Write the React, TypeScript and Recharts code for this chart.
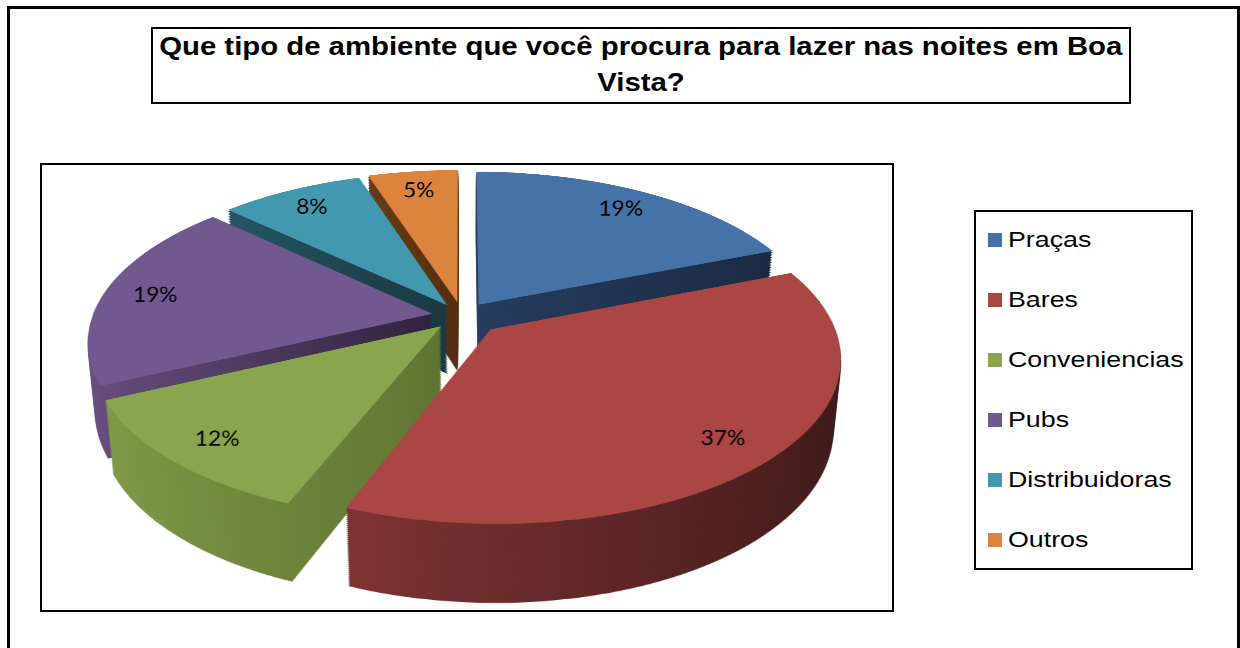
import React from 'react';
import { PieChart, Pie, Cell } from 'recharts';

// survey answers
const categories = ['Praças', 'Bares', 'Conveniencias', 'Pubs', 'Distribuidoras', 'Outros'];
const percentages = [19, 37, 12, 19, 8, 5];

const topColors = ['#4572A7', '#AA4643', '#89A54E', '#71588F', '#4198AF', '#DB843D'];
const wallLight = ['#263c5e', '#7e3333', '#7e9948', '#6a5082', '#255563', '#6a3b17'];
const wallDark = ['#1b2a42', '#3d1818', '#5f7431', '#30223b', '#1b3842', '#522d10'];
const explodeBy = [30, 40, 30, 30, 28, 30];

const data = categories.map((name, i) => ({ name, value: percentages[i] }));

// 3d look: the flat pie is tilted with a css perspective, walls are stacked copies
const SIZE = 800;
const RADIUS = 340;
const TILT = 62.3;
const PERSP = 1845;
const DEPTH = 80;
const STEP = 2;
const CENTER_X = 462;
const CENTER_Y = 316;
const LABEL_R = 288;

const RAD = Math.PI / 180;
const total = percentages.reduce((a, b) => a + b, 0);
const midAngles = percentages.map((v, i) => {
  const before = percentages.slice(0, i).reduce((a, b) => a + b, 0);
  return (360 * (before + v / 2)) / total;
});
const offsetOf = (i: number) => {
  const a = midAngles[i] * RAD;
  return [explodeBy[i] * Math.sin(a), -explodeBy[i] * Math.cos(a)];
};

const renderLabel = (props: any) => {
  const { cx, cy, midAngle, index, value } = props;
  const [dx, dy] = offsetOf(index);
  const u = LABEL_R * Math.cos(midAngle * RAD) + dx;
  const v = -LABEL_R * Math.sin(midAngle * RAD) + dy;
  const k = Math.sin(TILT * RAD) / PERSP;
  const c = Math.cos(TILT * RAD);
  const f = 1 / (1 - v * k);
  // undo the projection locally so the text reads flat
  const m = [1.08 / f, 0, (-u * k) / (f * c), 1 / (c * f * f), 0, 0];
  return (
    <text
      key={`lbl-${index}`}
      transform={`translate(${cx + u} ${cy + v}) matrix(${m.join(' ')})`}
      x={0}
      y={0}
      textAnchor="middle"
      dominantBaseline="central"
      fontFamily="Lato, 'Noto Sans', sans-serif"
      fontSize={21}
      fill="#000"
    >
      {`${value}%`}
    </text>
  );
};

const PieLayer = ({ depth, top }: { depth: number; top: boolean }) => (
  <div
    style={{
      position: 'absolute',
      left: CENTER_X - SIZE / 2,
      top: CENTER_Y - SIZE / 2,
      width: SIZE,
      height: SIZE,
      transformOrigin: '50% 50%',
      transform: `perspective(${PERSP}px) rotateX(${TILT}deg) translateZ(${-depth}px)`,
    }}
  >
    <PieChart width={SIZE} height={SIZE} margin={{ top: 0, right: 0, bottom: 0, left: 0 }}>
      <Pie
        data={data}
        dataKey="value"
        nameKey="name"
        cx="50%"
        cy="50%"
        outerRadius={RADIUS}
        startAngle={90}
        endAngle={-270}
        stroke="none"
        isAnimationActive={false}
        label={top ? renderLabel : false}
        labelLine={false}
      >
        {data.map((d, i) => {
          const [dx, dy] = offsetOf(i);
          return (
            <Cell
              key={d.name}
              fill={top ? topColors[i] : `url(#wall-${i})`}
              transform={`translate(${dx} ${dy})`}
            />
          );
        })}
      </Pie>
    </PieChart>
  </div>
);

const wallDepths: number[] = [];
for (let d = DEPTH; d > 0; d -= STEP) wallDepths.push(d);

const box = (left: number, top: number, width: number, height: number, bw: number) => ({
  position: 'absolute' as const,
  left,
  top,
  width,
  height,
  border: `${bw}px solid #000`,
  boxSizing: 'border-box' as const,
});

const stretch = (sx: number) => ({
  display: 'inline-block',
  transform: `scaleX(${sx})`,
  transformOrigin: '0 0',
  whiteSpace: 'nowrap' as const,
});

export default function App() {
  return (
    <div
      style={{
        position: 'absolute',
        left: 0,
        top: 0,
        width: 1240,
        height: 648,
        background: '#fff',
        fontFamily: '"Liberation Sans", Arial, sans-serif',
      }}
    >
      <svg width={0} height={0} style={{ position: 'absolute' }}>
        <defs>
          {wallLight.map((c, i) => (
            <linearGradient key={i} id={`wall-${i}`} x1="0" y1="0" x2="1" y2="0">
              <stop offset="0" stopColor={c} />
              <stop offset="1" stopColor={wallDark[i]} />
            </linearGradient>
          ))}
        </defs>
      </svg>

      {wallDepths.map((d) => (
        <PieLayer key={d} depth={d} top={false} />
      ))}
      <PieLayer depth={0} top />

      <div style={box(151, 27, 980, 77, 2)} />
      {['Que tipo de ambiente que você procura para lazer nas noites em Boa', 'Vista?'].map((line, i) => (
        <div
          key={line}
          style={{
            position: 'absolute',
            left: 151,
            width: 980,
            top: 30 + i * 36,
            textAlign: 'center',
            fontSize: 25.5,
            fontWeight: 'bold',
            lineHeight: '32px',
          }}
        >
          <span style={{ ...stretch(1.15), transformOrigin: '50% 0' }}>{line}</span>
        </div>
      ))}

      <div style={box(40, 163, 854, 449, 2)} />

      <div style={box(974, 210, 219, 360, 2)} />
      {categories.map((name, i) => (
        <div key={name} style={{ position: 'absolute', left: 988, top: 226 + i * 60, height: 28 }}>
          <div
            style={{
              position: 'absolute',
              left: 0,
              top: 7,
              width: 14,
              height: 14,
              background: topColors[i],
            }}
          />
          <div style={{ position: 'absolute', left: 20, top: 0, fontSize: 22.5, lineHeight: '28px' }}>
            <span style={stretch(1.19)}>{name}</span>
          </div>
        </div>
      ))}

      <div
        style={{
          position: 'absolute',
          left: 7,
          top: 6,
          width: 1233,
          height: 642,
          borderTop: '3px solid #000',
          borderLeft: '3px solid #000',
          borderRight: '3px solid #000',
          boxSizing: 'border-box',
        }}
      />
    </div>
  );
}
